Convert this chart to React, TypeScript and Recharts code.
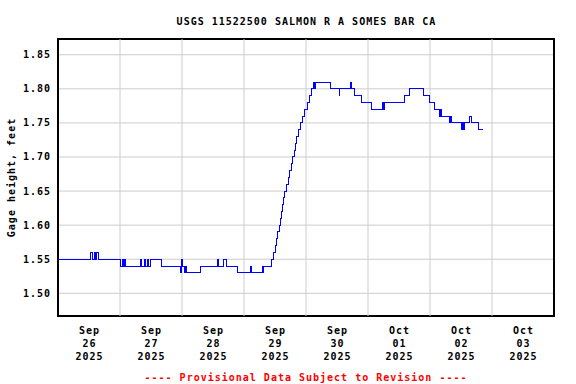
import React from "react";
import {
  LineChart,
  Line,
  XAxis,
  YAxis,
  CartesianGrid,
  ReferenceLine,
  ReferenceArea,
} from "recharts";

// hours since Sep 26 2025 00:00 where the gage reading changes
const hours = [
  0, 12.4, 13.3, 14.2, 14.6, 15.0, 15.6, 24.3, 24.8, 25.3, 25.8, 26.2, 31.9,
  32.3, 33.5, 34.0, 34.6, 35.0, 35.8, 39.9, 47.5, 47.8, 48.3, 49.0, 49.3, 49.8,
  55.1, 61.9, 62.2, 64.0, 65.4, 69.5, 74.6, 74.9, 79.0, 79.3, 79.7, 82.6, 83.5,
  84.2, 84.5, 85.0, 85.7, 86.2, 86.5, 86.9, 87.4, 87.8, 88.4, 89.2, 89.7, 90.2,
  90.7, 91.5, 91.9, 92.5, 93.2, 93.8, 94.7, 95.5, 96.4, 97.3, 98.2, 99.0, 99.4,
  99.7, 105.6, 108.8, 109.0, 113.3, 113.8, 114.6, 117.5, 121.4, 125.8, 126.1,
  126.4, 134.3, 136.1, 141.5, 143.9, 145.8, 147.7, 148.0, 148.4, 151.6, 151.9,
  152.2, 156.1, 156.4, 156.9, 157.2, 159.1, 159.9, 162.6, 164.5,
];

// gage height, feet
const stage = [
  1.55, 1.56, 1.55, 1.56, 1.55, 1.56, 1.55, 1.54, 1.55, 1.54, 1.55, 1.54, 1.55,
  1.54, 1.55, 1.54, 1.55, 1.54, 1.55, 1.54, 1.53, 1.55, 1.54, 1.53, 1.54, 1.53,
  1.54, 1.55, 1.54, 1.55, 1.54, 1.53, 1.54, 1.53, 1.54, 1.53, 1.54, 1.55, 1.56,
  1.57, 1.58, 1.59, 1.6, 1.61, 1.62, 1.63, 1.64, 1.65, 1.66, 1.67, 1.68, 1.69,
  1.7, 1.71, 1.72, 1.73, 1.74, 1.75, 1.76, 1.77, 1.78, 1.79, 1.8, 1.81, 1.8,
  1.81, 1.8, 1.79, 1.8, 1.81, 1.8, 1.79, 1.78, 1.77, 1.78, 1.77,
  1.78, 1.79, 1.8, 1.79, 1.78, 1.77, 1.76, 1.77, 1.76, 1.75, 1.76,
  1.75, 1.74, 1.75, 1.74, 1.75, 1.76, 1.75, 1.74, 1.74,
];

const labelHours = [12, 36, 60, 84, 108, 132, 156, 180];
const labelMonths = ["Sep", "Sep", "Sep", "Sep", "Sep", "Oct", "Oct", "Oct"];
const labelDays = ["26", "27", "28", "29", "30", "01", "02", "03"];
const labelYears = ["2025", "2025", "2025", "2025", "2025", "2025", "2025", "2025"];
const midnightHours = [24, 48, 72, 96, 120, 144, 168];
const stageTicks = [1.5, 1.55, 1.6, 1.65, 1.7, 1.75, 1.8, 1.85];

const Y_MIN = 1.4667;
const Y_MAX = 1.8731;

const data = hours.map((h, i) => ({ h, v: stage[i] }));

const font = {
  fontFamily: "'DejaVu Sans Mono', monospace",
  fontWeight: "bold" as const,
  fontSize: 10,
  letterSpacing: 1,
};

const DayTick = (props: any) => {
  const { x, y, payload } = props;
  const i = labelHours.indexOf(payload.value);
  if (i < 0) return null;
  return (
    <text x={x} y={y} textAnchor="middle" fill="#000" style={font}>
      <tspan x={x + 0.5} y={y + 18}>{labelMonths[i]}</tspan>
      <tspan x={x + 0.5} y={y + 31}>{labelDays[i]}</tspan>
      <tspan x={x + 0.5} y={y + 44}>{labelYears[i]}</tspan>
    </text>
  );
};

const StageTick = (props: any) => {
  const { x, y, payload } = props;
  return (
    <text x={x + 1} y={y + 3.5} textAnchor="end" fill="#000" style={font}>
      {Number(payload.value).toFixed(2)}
    </text>
  );
};

export default function App() {
  return (
    <div
      style={{
        position: "absolute",
        left: 0,
        top: 0,
        width: 576,
        height: 384,
        background: "#fff",
      }}
    >
      <LineChart
        width={576}
        height={384}
        data={data}
        margin={{ top: 39, right: 22, bottom: 0, left: 0 }}
      >
        <CartesianGrid vertical={false} stroke="#cccccc" />
        <XAxis
          dataKey="h"
          type="number"
          domain={[0, 192]}
          ticks={labelHours}
          tick={<DayTick />}
          tickLine={false}
          axisLine={false}
          tickSize={0}
          tickMargin={0}
          height={68}
          interval={0}
        />
        <YAxis
          type="number"
          domain={[Y_MIN, Y_MAX]}
          ticks={stageTicks}
          tick={<StageTick />}
          tickLine={false}
          axisLine={false}
          tickSize={0}
          tickMargin={8}
          width={58}
          interval={0}
          allowDataOverflow
        />
        {midnightHours.map((h) => (
          <ReferenceLine key={h} x={h} stroke="#cccccc" />
        ))}
        <Line
          type="stepAfter"
          dataKey="v"
          stroke="#0000ff"
          strokeWidth={1}
          shapeRendering="crispEdges"
          dot={false}
          isAnimationActive={false}
        />
        <ReferenceArea
          x1={0}
          x2={192}
          y1={Y_MIN}
          y2={Y_MAX}
          fill="none"
          fillOpacity={0}
          stroke="#000"
          strokeWidth={1.5}
          strokeOpacity={1}
          shapeRendering="crispEdges"
        />
      </LineChart>
      <svg
        width={576}
        height={384}
        style={{ position: "absolute", left: 0, top: 0, pointerEvents: "none" }}
      >
        <text x={306.5} y={25} textAnchor="middle" fill="#000" style={font}>
          USGS 11522500 SALMON R A SOMES BAR CA
        </text>
        <text
          x={14.5}
          y={177.5}
          textAnchor="middle"
          fill="#000"
          style={font}
          transform="rotate(-90 14.5 177.5)"
        >
          Gage height, feet
        </text>
        <text x={306} y={380.5} textAnchor="middle" fill="#ff0000" style={font}>
          ---- Provisional Data Subject to Revision ----
        </text>
      </svg>
    </div>
  );
}
